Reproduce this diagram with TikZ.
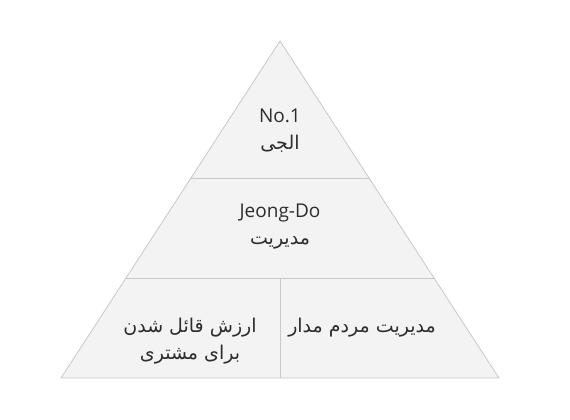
\documentclass[tikz,border=0pt]{standalone}
\usepackage{fontspec}
\setmainfont{Open Sans}
\newfontfamily\arabicfont[Script=Arabic]{DejaVu Sans}
\TeXXeTstate=1
\usepackage{tikz}
\usetikzlibrary{positioning,calc}
\usepackage{xcolor}
\definecolor{pyramidfill}{RGB}{243,243,243}
\definecolor{pyramidline}{RGB}{200,200,200}
\definecolor{labelgray}{RGB}{45,45,45}

\begin{document}
\begin{tikzpicture}[
    x=1pt, y=-1pt,
    tier/.style={fill=pyramidfill, draw=pyramidline, line width=0.8pt},
    divider/.style={draw=pyramidline, line width=0.8pt},
    tierlabel/.style={text=labelgray, align=center, inner sep=0pt, font=\fontsize{19}{27}\selectfont}
]
\useasboundingbox (0,0) rectangle (570,420);
% outline of the pyramid
\coordinate (apex) at (280,41);
\coordinate (baseL) at (61,378);
\coordinate (baseR) at (499,378);
\draw[tier] (apex) -- (baseR) -- (baseL) -- cycle;
% tier borders
\coordinate (upperL) at ($(apex)!0.4065!(baseL)$);
\coordinate (upperR) at ($(apex)!0.4065!(baseR)$);
\coordinate (lowerL) at ($(apex)!0.7033!(baseL)$);
\coordinate (lowerR) at ($(apex)!0.7033!(baseR)$);
\coordinate (splitTop) at (280,278);
\coordinate (splitBot) at (280,378);
\draw[divider] (upperL) -- (upperR);
\draw[divider] (lowerL) -- (lowerR);
\draw[divider] (splitTop) -- (splitBot);
% labels
\node[tierlabel] (topTier) at (280,131) {No.1\\{\arabicfont\beginR الجی\endR}};
\node[tierlabel] (midTier) at (280,227) {Jeong-Do\\{\arabicfont\beginR مدیریت\endR}};
\node[tierlabel] (customerTier) at (190,341) {{\arabicfont\beginR ارزش قائل شدن\endR}\\{\arabicfont\beginR برای مشتری\endR}};
\node[tierlabel] (peopleTier) at (362,328) {{\arabicfont\beginR مدیریت مردم مدار\endR}};
\end{tikzpicture}
\end{document}
